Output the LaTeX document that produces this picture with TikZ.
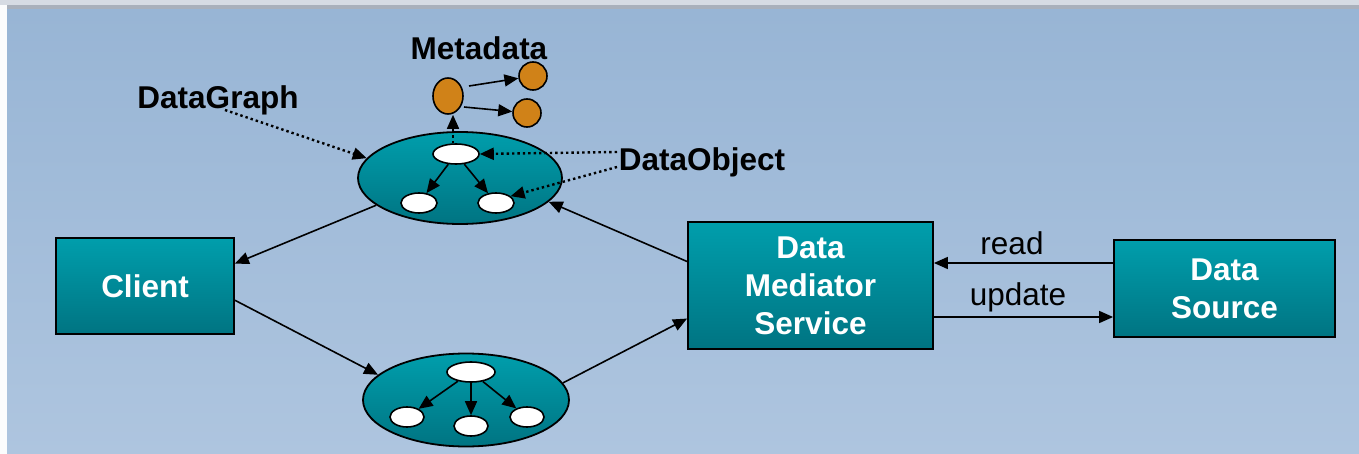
\documentclass[tikz,border=0pt]{standalone}
\usepackage{fontspec}
\setmainfont{Liberation Sans}
\usetikzlibrary{shapes.geometric,arrows.meta,calc}
\definecolor{bgtop}{RGB}{152,181,213}
\definecolor{bgbot}{RGB}{174,197,223}
\definecolor{tealtop}{RGB}{0,158,172}
\definecolor{tealbot}{RGB}{0,116,130}
\definecolor{orng}{RGB}{208,130,24}
\definecolor{stripA}{RGB}{214,219,227}
\definecolor{stripB}{RGB}{169,176,187}
\begin{document}
\begin{tikzpicture}[x=1pt,y=-1pt,
  txt/.style={font=\fontsize{31.5}{38}\selectfont},
  btxt/.style={font=\fontsize{31.5}{38}\selectfont\bfseries},
  box/.style={draw=black,line width=1.8pt,top color=tealtop,bottom color=tealbot,
    text=white,font=\fontsize{31.5}{38}\selectfont\bfseries,align=center,inner sep=0pt},
  bigell/.style={ellipse,draw=black,line width=1.8pt,top color=tealtop,bottom color=tealbot,inner sep=0pt},
  wnode/.style={ellipse,draw=black,line width=1.6pt,fill=white,inner sep=0pt,minimum width=36pt,minimum height=20pt},
  onode/.style={ellipse,draw=black,line width=1.6pt,fill=orng,inner sep=0pt},
  arr/.style={line width=1.6pt,-{Triangle[length=14pt,width=12pt]}},
  dotarr/.style={line width=2.4pt,dash pattern=on 2.4pt off 3pt,-{Triangle[length=14pt,width=12pt]}},
]
\useasboundingbox (0,0) rectangle (1359,454);
\fill[white!96!bgtop] (0,0) rectangle (1359,454);
\fill[stripA] (0,0) rectangle (1359,5);
\fill[stripB] (7,5) rectangle (1359,10);
\shade[top color=bgtop,bottom color=bgbot] (7,10) rectangle (1359,454);

% boxes
\node[box,minimum width=178pt,minimum height=96pt] (client) at (145,286) {Client};
\node[box,minimum width=245pt,minimum height=127pt] (dms) at (810.5,285.5) {Data\\Mediator\\Service};
\node[box,minimum width=221pt,minimum height=97pt] (ds) at (1224.5,288.5) {Data\\Source};

% top data graph
\node[bigell,minimum width=204pt,minimum height=92pt] (g1) at (460,178) {};
\node[wnode,minimum width=46pt] (w1) at (456,154) {};
\node[wnode] (w2) at (419,203) {};
\node[wnode] (w3) at (496,203) {};
\draw[arr] (w1) -- (w2);
\draw[arr] (w1) -- (w3);

% bottom data graph
\node[bigell,minimum width=206pt,minimum height=93pt] (g2) at (466,400) {};
\node[wnode,minimum width=48pt] (v1) at (471,372) {};
\node[wnode,minimum width=34pt] (v2) at (407,417) {};
\node[wnode,minimum width=34pt] (v3) at (471,426) {};
\node[wnode,minimum width=34pt] (v4) at (527,417) {};
\draw[arr] (v1) -- (v2);
\draw[arr] (v1) -- (v3);
\draw[arr] (v1) -- (v4);

% metadata
\node[onode,minimum width=30pt,minimum height=36pt] (m0) at (448,96) {};
\node[onode,minimum width=28pt,minimum height=28pt] (m1) at (533,76) {};
\node[onode,minimum width=28pt,minimum height=28pt] (m2) at (527,113) {};
\coordinate (a1) at (469,86);
\coordinate (a2) at (464,107);
\draw[arr] (a1) -- (m1);
\draw[arr] (a2) -- (m2);
\coordinate (mx) at (453,0);
\draw[line width=2.4pt,dash pattern=on 2.4pt off 3pt] (mx |- w1.north) -- (mx |- g1.north);
\draw[arr] (mx |- g1.north) -- (mx |- m0.south);

% labels
\node[btxt] (lmeta) at (479,48) {Metadata};
\node[btxt] (lgraph) at (218,100) {DataGraph};
\node[btxt] (lobj) at (702,162) {DataObject};
\node[txt] (lread) at (1012,243) {read};
\node[txt] (lupd) at (1018,297) {update};

% dotted pointers
\coordinate (gp) at (225,110);
\draw[dotarr] (gp) -- (g1.168);
\coordinate (o1) at (617,152);
\coordinate (o2) at (617,167);
\draw[dotarr] (o1) -- (w1.east);
\draw[dotarr] (o2) -- (w3.25);

% main connectors
\draw[arr] (g1.198) -- (client.14);
\draw[arr] (dms.169) -- (g1.345);
\draw[arr] (client.351) -- (g2.164);
\draw[arr] (g2.10) -- (dms.195);
\draw[arr] ([yshift=25.5pt]ds.west) -- ([yshift=25.5pt]ds.west -| dms.east);
\draw[arr] ([yshift=-31.5pt]dms.east) -- ([yshift=-31.5pt]dms.east -| ds.west);
\end{tikzpicture}
\end{document}
